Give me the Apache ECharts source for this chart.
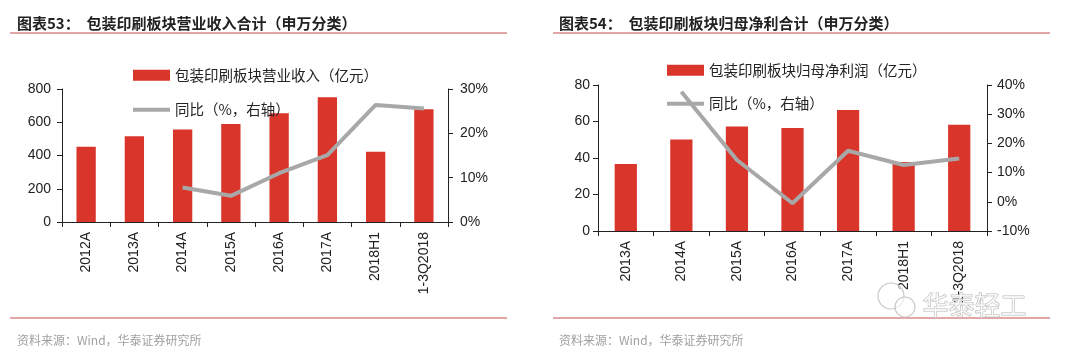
<!DOCTYPE html>
<html><head><meta charset="utf-8">
<script src="https://cdn.jsdelivr.net/npm/echarts@6/dist/echarts.min.js"></script>
<style>html,body{margin:0;padding:0;background:#fff}#c{width:1080px;height:355px}</style>
</head><body><div id="c"></div>
<script>
var cats1 = ['2012A','2013A','2014A','2015A','2016A','2017A','2018H1','1-3Q2018'];
var revenue = [453, 516, 557, 589, 654, 750, 423, 678];
var revenueYoy = [null, null, 7.8, 5.9, 11.0, 15.1, 26.4, 25.6];
var cats2 = ['2013A','2014A','2015A','2016A','2017A','2018H1','1-3Q2018'];
var profit = [36.7, 50.2, 57.2, 56.4, 66.3, 37.8, 58.2];
var profitYoy = [null, 37.7, 14.3, -0.5, 17.5, 12.6, 14.8];
var leftTicks1 = [0, 800, 200], rightTicks1 = [0, 30, 10];
var leftTicks2 = [0, 80, 20], rightTicks2 = [-10, 40, 10];

var RED = '#d9352a', GRAY = '#a8a8a8', PINK = '#e3a6a6';
var numFont = 'Liberation Sans, Arial, sans-serif';
var cjk = 'Noto Sans CJK SC, sans-serif';
var axisLbl = {color:'#222', fontFamily:numFont, fontSize:14};
var lineIcon = 'path://M0,0 H37 V4 H0 Z';
function yAx(grid, t, pos, fmt, margin){
  return {type:'value', gridIndex:grid, min:t[0], max:t[1], interval:t[2], position:pos,
    axisLine:{show:true, lineStyle:{color:'#222', width:1}},
    axisTick:{show:true, length:5, lineStyle:{color:'#222'}},
    splitLine:{show:false},
    axisLabel:Object.assign({margin:margin, formatter:fmt}, axisLbl)};
}
function xAx(grid, cats){
  return {type:'category', gridIndex:grid, data:cats,
    axisLine:{lineStyle:{color:'#222', width:1}},
    axisTick:{show:true, length:5, lineStyle:{color:'#222'}},
    axisLabel:Object.assign({rotate:90, margin:10, interval:0}, axisLbl)};
}
var chart = echarts.init(document.getElementById('c'));
chart.setOption({
  animation:false,
  backgroundColor:'#fff',
  title:[
    {text:'图表53：  包装印刷板块营业收入合计（申万分类）', left:12, top:11, textStyle:{fontFamily:cjk, fontSize:15, fontWeight:'bold', color:'#222'}},
    {text:'图表54：  包装印刷板块归母净利合计（申万分类）', left:554, top:11, textStyle:{fontFamily:cjk, fontSize:15, fontWeight:'bold', color:'#222'}},
    {text:'资料来源：Wind，华泰证券研究所', left:12, top:329, textStyle:{fontFamily:cjk, fontSize:12, fontWeight:'normal', color:'#a0a0a0'}},
    {text:'资料来源：Wind，华泰证券研究所', left:554, top:329, textStyle:{fontFamily:cjk, fontSize:12, fontWeight:'normal', color:'#a0a0a0'}}
  ],
  legend:[
    {orient:'vertical', left:133, top:68, padding:0, itemWidth:37, itemHeight:11, itemGap:20,
     data:[{name:'包装印刷板块营业收入（亿元）', icon:'rect'}, {name:'同比（%，右轴）', icon:lineIcon}],
     textStyle:{fontFamily:cjk, fontSize:14.5, color:'#222'}},
    {orient:'vertical', left:667, top:63, padding:0, itemWidth:37, itemHeight:11, itemGap:19,
     data:[{name:'包装印刷板块归母净利润（亿元）', icon:'rect'}, {name:'同比（%，右轴） ', icon:lineIcon}],
     textStyle:{fontFamily:cjk, fontSize:14.5, color:'#222'}}
  ],
  grid:[
    {left:62, right:632, top:89, bottom:133},
    {left:598, right:93, top:85, bottom:124}
  ],
  xAxis:[xAx(0, cats1), xAx(1, cats2)],
  yAxis:[
    yAx(0, leftTicks1, 'left', '{value}', 11),
    yAx(0, rightTicks1, 'right', '{value}%', 12),
    yAx(1, leftTicks2, 'left', '{value}', 8),
    yAx(1, rightTicks2, 'right', '{value}%', 10)
  ],
  series:[
    {name:'包装印刷板块营业收入（亿元）', type:'bar', xAxisIndex:0, yAxisIndex:0, data:revenue, barWidth:'40%', itemStyle:{color:RED}},
    {name:'同比（%，右轴）', type:'line', xAxisIndex:0, yAxisIndex:1, data:revenueYoy, showSymbol:false, symbol:'none', lineStyle:{color:GRAY, width:4}, itemStyle:{color:GRAY}},
    {name:'包装印刷板块归母净利润（亿元）', type:'bar', xAxisIndex:1, yAxisIndex:2, data:profit, barWidth:'40%', itemStyle:{color:RED}},
    {name:'同比（%，右轴） ', type:'line', xAxisIndex:1, yAxisIndex:3, data:profitYoy, showSymbol:false, symbol:'none', lineStyle:{color:GRAY, width:4}, itemStyle:{color:GRAY}}
  ],
  graphic:[
    {type:'line', shape:{x1:10, y1:33, x2:507, y2:33}, style:{stroke:PINK, lineWidth:2}},
    {type:'line', shape:{x1:553, y1:33, x2:1050, y2:33}, style:{stroke:PINK, lineWidth:2}},
    {type:'line', shape:{x1:10, y1:318, x2:507, y2:318}, style:{stroke:PINK, lineWidth:2}},
    {type:'line', shape:{x1:553, y1:318, x2:1050, y2:318}, style:{stroke:PINK, lineWidth:2}},
    {type:'circle', shape:{cx:891, cy:296, r:13}, style:{fill:'rgba(255,255,255,0.6)', stroke:'#c8c8c8', lineWidth:1.2}, z:100},
    {type:'circle', shape:{cx:905, cy:307, r:10}, style:{fill:'rgba(255,255,255,0.6)', stroke:'#c8c8c8', lineWidth:1.2}, z:100},
    {type:'text', left:922, top:292, z:100, style:{text:'华泰轻工', font:'26px Noto Sans CJK SC', fill:'rgba(255,255,255,0.7)', stroke:'#b8b8b8', lineWidth:1}}
  ]
});
</script></body></html>
